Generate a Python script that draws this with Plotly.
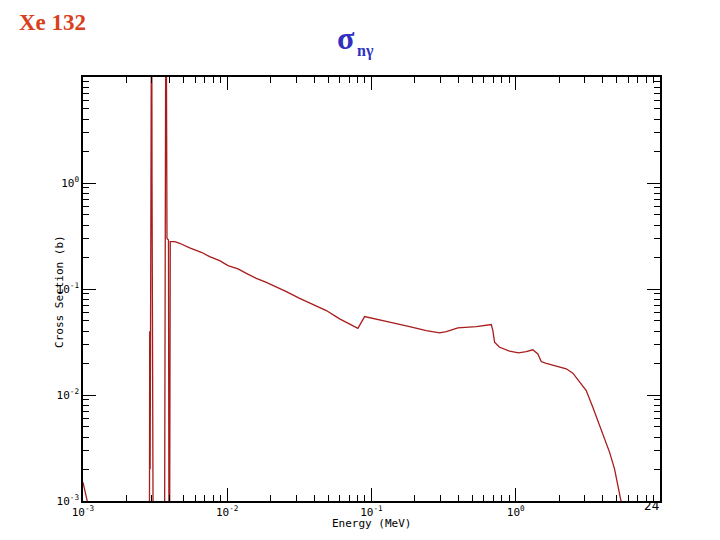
import plotly.graph_objects as go

# ---- data (Xe-132 (n,gamma) cross section) ----
energy_mev = [
    1.00e-3, 1.04e-3, 1.07e-3, 1.10e-3,
    2.88e-3, 2.90e-3, 2.92e-3, 2.96e-3, 2.99e-3, 3.01e-3, 3.06e-3, 3.09e-3,
    3.654e-3, 3.713e-3, 3.761e-3, 3.821e-3, 3.913e-3, 3.963e-3, 4.027e-3,
    4.32e-3, 4.68e-3, 5.49e-3, 6.61e-3, 7.55e-3, 8.86e-3, 1.012e-2, 1.187e-2,
    1.357e-2, 1.591e-2, 1.866e-2, 2.189e-2, 2.568e-2, 3.175e-2, 3.926e-2,
    4.863e-2, 6.01e-2, 7.05e-2, 8.05e-2, 8.96e-2, 0.1034, 0.1138, 0.1407,
    0.1837, 0.2398, 0.2965, 0.33, 0.397, 0.5325, 0.6765, 0.694, 0.713,
    0.772, 0.906, 1.046, 1.182, 1.314, 1.423, 1.502, 1.627, 1.933, 2.239,
    2.488, 2.768, 3.081, 3.422, 3.707, 4.015, 4.467, 4.838, 5.1, 5.38, 5.5,
]
sigma_b = [
    1.5e-3, 1.2e-3, 1.0e-3, 1e-5,
    1e-5, 0.04, 0.002, 1.0, 300.0, 1.0, 0.002, 1e-5,
    1e-5, 0.01, 300.0, 0.30, 0.29, 1e-5, 0.28,
    0.280, 0.270, 0.244, 0.222, 0.202, 0.185, 0.166, 0.155,
    0.1406, 0.126, 0.1156, 0.1054, 0.0945, 0.0817, 0.0713,
    0.0626, 0.0523, 0.0469, 0.0426, 0.0549, 0.0523, 0.0511, 0.0479,
    0.0442, 0.0405, 0.0386, 0.0397, 0.0430, 0.0442, 0.0462, 0.0405, 0.0315,
    0.0282, 0.0259, 0.0250, 0.0257, 0.0267, 0.0244, 0.0207, 0.0199, 0.01876, 0.01766,
    0.01605, 0.0132, 0.01103, 0.00767, 0.00575, 0.00431, 0.00289, 0.00201, 0.00146, 0.00098, 0.0007,
]

major_vals = [1e-3, 1e-2, 1e-1, 1e0]
major_text = ["10<sup>-3</sup>", "10<sup>-2</sup>", "10<sup>-1</sup>", "10<sup>0</sup>"]
minor_vals = [m * 10.0 ** e for e in range(-3, 1) for m in range(2, 10)]

title_left = "Xe 132"
title_sigma = "σ"
title_sub = "nγ"
x_title = "Energy (MeV)"
y_title = "Cross Section (b)"
page_no = "24"

fig = go.Figure()
fig.add_trace(go.Scatter(
    x=energy_mev, y=sigma_b, mode="lines",
    line=dict(color="#A81C1C", width=1.3),
    hoverinfo="skip", showlegend=False,
))

mono = "DejaVu Sans Mono"
axis_common = dict(
    type="log", range=[-3, 1],
    showline=True, linecolor="black", linewidth=1.5,
    mirror="allticks", ticks="inside", ticklen=13, tickwidth=1, tickcolor="black",
    tickmode="array", tickvals=major_vals, ticktext=major_text,
    tickfont=dict(family=mono, size=11, color="black"),
    showgrid=False, zeroline=False,
    minor=dict(tickmode="array", tickvals=minor_vals, ticks="inside",
               ticklen=6, tickwidth=1, tickcolor="black", showgrid=False),
)
fig.update_xaxes(**axis_common)
fig.update_yaxes(**axis_common)

W, H = 720, 540
L, R, T, B = 83.3, 660.5, 76.5, 501.0

def px(x):
    return (x - L) / (R - L)

def py(y):
    return (B - y) / (B - T)

def ann(text, x, y, font, **kw):
    return dict(text=text, x=px(x), y=py(y), xref="paper", yref="paper",
                xanchor="center", yanchor="middle", showarrow=False, font=font, **kw)

annotations = [
    ann("<b>" + title_left + "</b>", 52.5, 22,
        dict(family="Liberation Serif", size=23, color="#D8401C")),
    ann("<b>" + title_sigma + "</b>", 346, 37,
        dict(family="Liberation Serif", size=32, color="#3030C0")),
    ann("<b>" + title_sub + "</b>", 366, 50,
        dict(family="Liberation Serif", size=16, color="#3030C0")),
    ann(x_title, 372, 524, dict(family=mono, size=11, color="black")),
    ann(y_title, 60, 291, dict(family=mono, size=11, color="black"), textangle=-90),
    ann(page_no, 652, 506, dict(family="DejaVu Sans", size=12, color="black")),
]

fig.update_layout(
    width=W, height=H,
    margin=dict(l=L, r=W - R, t=T, b=H - B, pad=0),
    paper_bgcolor="white", plot_bgcolor="white",
    annotations=annotations,
    showlegend=False,
)

fig.write_html("out.html")
